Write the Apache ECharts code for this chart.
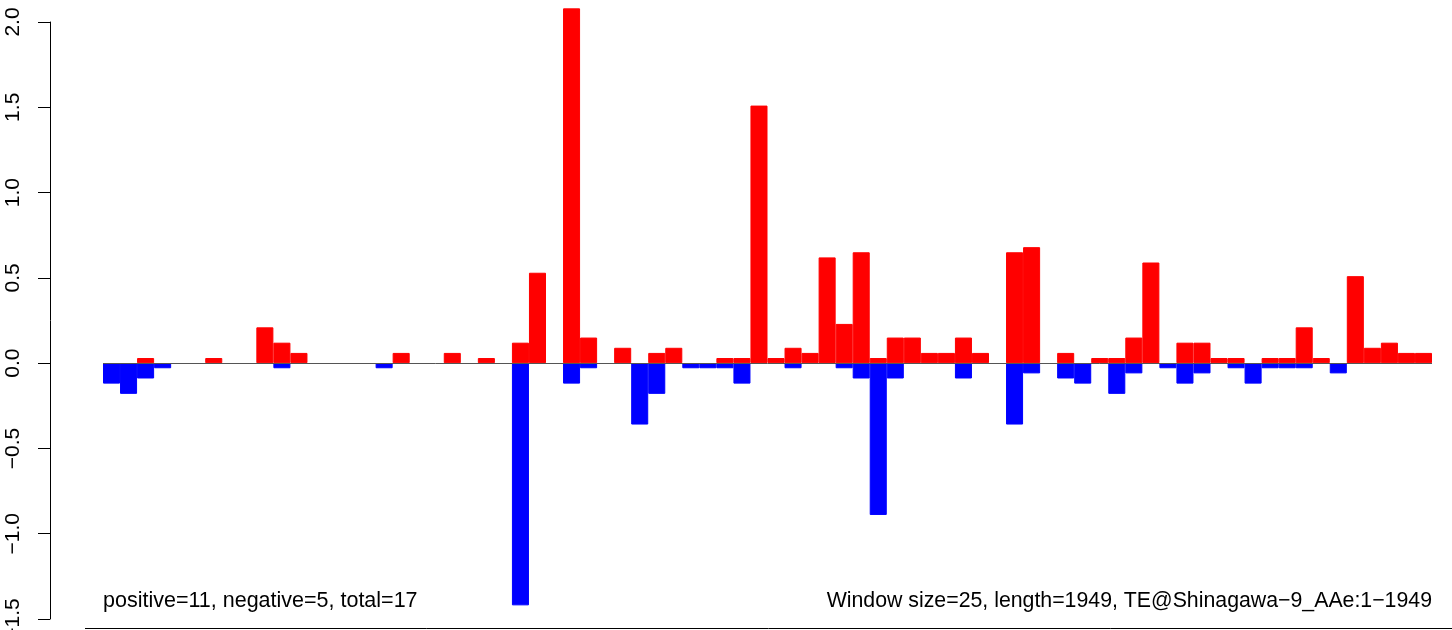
<!DOCTYPE html>
<html>
<head>
<meta charset="utf-8">
<script src="https://cdn.jsdelivr.net/npm/echarts@6/dist/echarts.min.js"></script>
<style>
html,body{margin:0;padding:0;background:#fff;}
#chart{width:1452px;height:630px;}
</style>
</head>
<body>
<div id="chart"></div>
<script>
// window index (78 windows of 25 aa over 1949)
const windows = Array.from({length: 78}, (_, i) => String(i + 1));
const positiveValues = [
  0, 0, 0.03, 0, 0, 0, 0.03, 0, 0, 0.21,
  0.12, 0.06, 0, 0, 0, 0, 0, 0.06, 0, 0,
  0.06, 0, 0.03, 0, 0.12, 0.53, 0, 2.08, 0.15, 0,
  0.09, 0, 0.06, 0.09, 0, 0, 0.03, 0.03, 1.51, 0.03,
  0.09, 0.06, 0.62, 0.23, 0.65, 0.03, 0.15, 0.15, 0.06, 0.06,
  0.15, 0.06, 0, 0.65, 0.68, 0, 0.06, 0, 0.03, 0.03,
  0.15, 0.59, 0, 0.12, 0.12, 0.03, 0.03, 0, 0.03, 0.03,
  0.21, 0.03, 0, 0.51, 0.09, 0.12, 0.06, 0.06
];
const negativeValues = [
  -0.12, -0.18, -0.09, -0.03, 0, 0, 0, 0, 0, 0,
  -0.03, 0, 0, 0, 0, 0, -0.03, 0, 0, 0,
  0, 0, 0, 0, -1.42, 0, 0, -0.12, -0.03, 0,
  0, -0.36, -0.18, 0, -0.03, -0.03, -0.03, -0.12, 0, 0,
  -0.03, 0, 0, -0.03, -0.09, -0.89, -0.09, 0, 0, 0,
  -0.09, 0, 0, -0.36, -0.06, 0, -0.09, -0.12, 0, -0.18,
  -0.06, 0, -0.03, -0.12, -0.06, 0, -0.03, -0.12, -0.03, -0.03,
  -0.03, 0, -0.06, 0, 0, 0, 0, 0
];
const yTicks = [-1.5, -1.0, -0.5, 0.0, 0.5, 1.0, 1.5, 2.0];
const leftNote = 'positive=11, negative=5, total=17';
const rightNote = 'Window size=25, length=1949, TE@Shinagawa\u22129_AAe:1\u22121949';

const FONT = '"Liberation Sans", Arial, Helvetica, sans-serif';
const asBars = arr => arr.map(v => (v === 0 ? '-' : v));
const chart = echarts.init(document.getElementById('chart'), null, {renderer: 'canvas'});
chart.setOption({
  animation: false,
  backgroundColor: '#ffffff',
  grid: {left: 103, right: 20, top: 22, bottom: 11, containLabel: false, outerBoundsMode: 'none'},
  xAxis: {
    type: 'category',
    data: windows,
    boundaryGap: true,
    axisLine: {show: false},
    axisTick: {show: false},
    axisLabel: {show: false},
    splitLine: {show: false}
  },
  yAxis: {
    type: 'value',
    min: yTicks[0],
    max: yTicks[yTicks.length - 1],
    interval: 0.5,
    offset: 53,
    axisLine: {show: true, lineStyle: {color: '#000', width: 1}},
    axisTick: {show: true, length: 12, lineStyle: {color: '#000', width: 1}},
    splitLine: {show: false},
    axisLabel: {
      rotate: 90,
      margin: 26,
      fontFamily: FONT,
      fontSize: 21,
      color: '#000',
      hideOverlap: false,
      showMinLabel: true,
      showMaxLabel: true,
      formatter: v => (v < 0 ? '\u2212' : '') + Math.abs(v).toFixed(1)
    }
  },
  series: [
    {
      name: 'positive',
      type: 'bar',
      data: asBars(positiveValues),
      barCategoryGap: 0,
      barGap: '-100%',
      clip: false,
      itemStyle: {color: '#ff0000', borderColor: '#ff0000', borderWidth: 1},
      markLine: {
        silent: true,
        symbol: 'none',
        label: {show: false},
        lineStyle: {color: '#555555', width: 1, type: 'solid'},
        data: [{yAxis: 0}]
      }
    },
    {
      name: 'negative',
      type: 'bar',
      data: asBars(negativeValues),
      barCategoryGap: 0,
      barGap: '-100%',
      clip: false,
      itemStyle: {color: '#0000ff', borderColor: '#0000ff', borderWidth: 1}
    }
  ],
  graphic: [
    {
      type: 'line',
      shape: {x1: 85, y1: 628.5, x2: 1452, y2: 628.5},
      style: {stroke: '#000', lineWidth: 1}
    },
    {
      type: 'text',
      x: 103, y: 601,
      style: {text: leftNote, font: '21.5px ' + FONT, fill: '#000', textAlign: 'left', textVerticalAlign: 'middle'}
    },
    {
      type: 'text',
      x: 1432, y: 601,
      style: {text: rightNote, font: '21.3px ' + FONT, fill: '#000', textAlign: 'right', textVerticalAlign: 'middle'}
    }
  ]
});
</script>
</body>
</html>
